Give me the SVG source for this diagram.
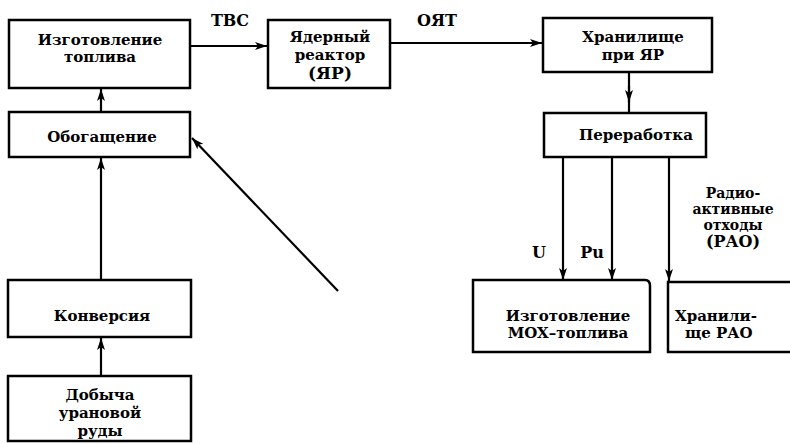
<svg xmlns="http://www.w3.org/2000/svg" width="790" height="444" viewBox="0 0 790 444">
<style>
.box{fill:#fff;stroke:#000;stroke-width:2.5}
.t{font-family:"DejaVu Serif","Liberation Serif",serif;font-weight:bold;font-size:15px;fill:#000;text-anchor:middle}
.l{font-family:"DejaVu Serif","Liberation Serif",serif;font-weight:bold;font-size:16px;fill:#000}
.c{fill:none;stroke:#000;stroke-width:2.2}
</style>
<defs>
<marker id="ah" viewBox="0 0 12 8" refX="12" refY="4" markerWidth="12" markerHeight="8" markerUnits="userSpaceOnUse" orient="auto">
<path d="M0,0 L12,4 L0,8 L3,4 Z" fill="#000"/>
</marker>
</defs>
<rect width="790" height="444" fill="#fff"/>
<g id="connectors">
<line class="c" x1="190" y1="46" x2="267" y2="46" marker-end="url(#ah)"/>
<line class="c" x1="390" y1="43" x2="542" y2="43" marker-end="url(#ah)"/>
<line class="c" x1="101" y1="112" x2="101" y2="89" marker-end="url(#ah)"/>
<line class="c" x1="101" y1="280" x2="101" y2="158" marker-end="url(#ah)"/>
<line class="c" x1="101" y1="376" x2="101" y2="338" marker-end="url(#ah)"/>
<line class="c" x1="338" y1="291" x2="192" y2="138" marker-end="url(#ah)"/>
<line class="c" x1="629" y1="72" x2="629" y2="113"/>
<line class="c" x1="629" y1="86" x2="629" y2="102" marker-end="url(#ah)"/>
<line class="c" x1="563" y1="157" x2="563" y2="280" marker-end="url(#ah)"/>
<line class="c" x1="612" y1="157" x2="612" y2="280" marker-end="url(#ah)"/>
<line class="c" x1="669" y1="157" x2="669" y2="281" marker-end="url(#ah)"/>
</g>
<g id="labels">
<text class="l" x="230" y="26" text-anchor="middle">ТВС</text>
<text class="l" x="437" y="26" text-anchor="middle">ОЯТ</text>
<text class="l" x="539" y="258" text-anchor="middle">U</text>
<text class="l" x="592" y="258" text-anchor="middle">Pu</text>
<text class="t" x="733" y="198" style="font-size:14px">Радио-</text>
<text class="t" x="733" y="214" style="font-size:14px">активные</text>
<text class="t" x="733" y="230" style="font-size:14px">отходы</text>
<text class="t" x="733" y="247" style="font-size:16px">(РАО)</text>
</g>
<g id="n_fuel">
<rect class="box" x="9" y="20" width="181" height="68"/>
<text class="t" x="100" y="45">Изготовление</text>
<text class="t" x="100" y="62">топлива</text>
</g>
<g id="n_reactor">
<rect class="box" x="268" y="20" width="122" height="68"/>
<text class="t" x="330" y="42">Ядерный</text>
<text class="t" x="330" y="60">реактор</text>
<text class="t" x="330" y="79" style="font-size:17px">(ЯР)</text>
</g>
<g id="n_storage">
<rect class="box" x="543" y="18" width="169" height="54"/>
<text class="t" x="633" y="42">Хранилище</text>
<text class="t" x="633" y="60">при ЯР</text>
</g>
<g id="n_enrich">
<rect class="box" x="9" y="112" width="181" height="45"/>
<text class="t" x="102" y="142">Обогащение</text>
</g>
<g id="n_reproc">
<rect class="box" x="544" y="113" width="162" height="44"/>
<text class="t" x="636" y="140">Переработка</text>
</g>
<g id="n_conv">
<rect class="box" x="8" y="280" width="183" height="57"/>
<text class="t" x="102" y="321">Конверсия</text>
</g>
<g id="n_mining">
<rect class="box" x="8" y="376" width="183" height="65"/>
<text class="t" x="100" y="400">Добыча</text>
<text class="t" x="100" y="418">урановой</text>
<text class="t" x="100" y="436">руды</text>
</g>
<g id="n_mox">
<path class="box" d="M473,280 L645,280 Q650,280 650,286 L650,352 L473,352 Z"/>
<text class="t" x="568" y="321">Изготовление</text>
<text class="t" x="568" y="338">MOX–топлива</text>
</g>
<g id="n_rao">
<path class="box" d="M795,282 L668,282 L668,352 L795,352"/>
<text class="t" x="675" y="321" style="text-anchor:start">Хранили-</text>
<text class="t" x="685" y="338" style="text-anchor:start">ще РАО</text>
</g>
</svg>
